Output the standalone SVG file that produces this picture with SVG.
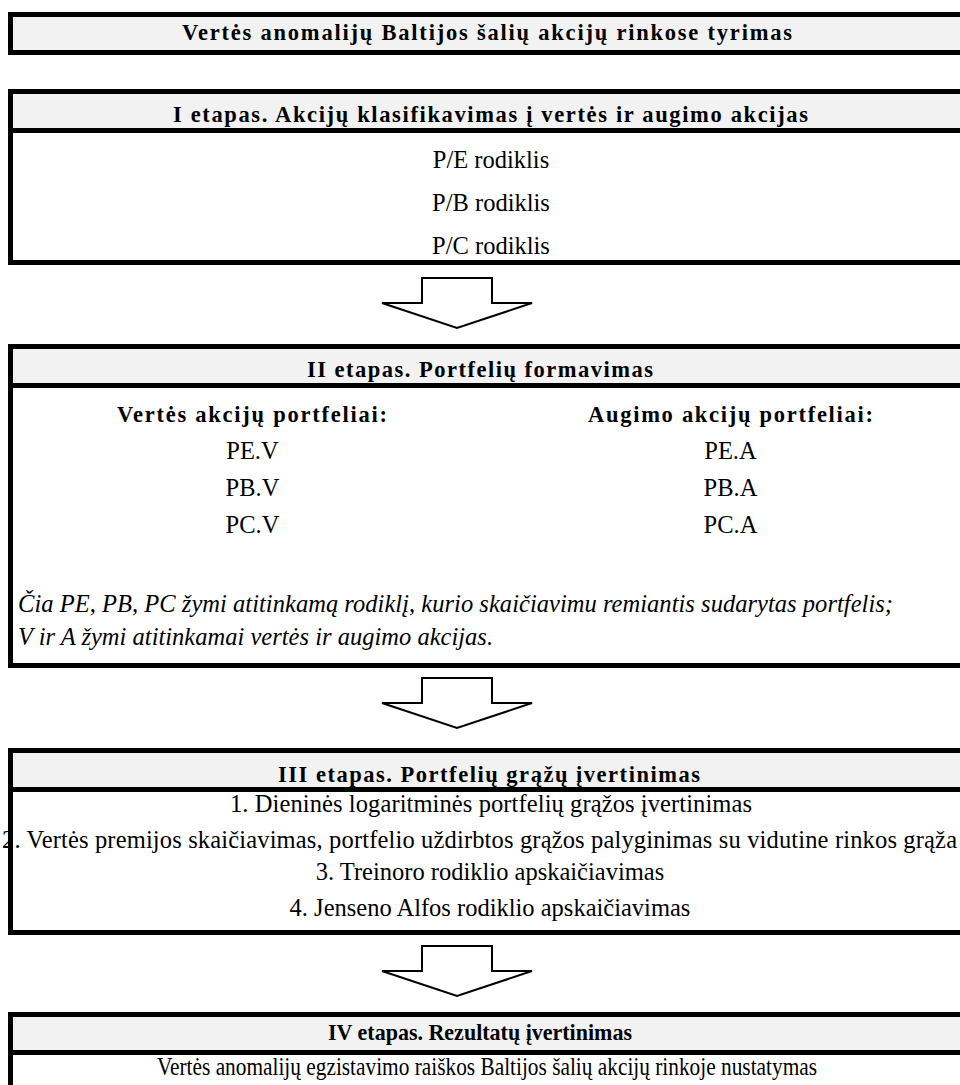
<svg xmlns="http://www.w3.org/2000/svg" width="960" height="1085" viewBox="0 0 960 1085">
<style>
.frame{fill:#fff;stroke:#000;stroke-width:5}
.head{fill:#f2f2f2;stroke:none}
.sep{stroke:#000;stroke-width:5}
.arrow{fill:#fff;stroke:#000;stroke-width:2;stroke-linejoin:miter}
text{font-family:"Liberation Serif","Times New Roman",serif;fill:#000}
.b{font-weight:bold;font-size:22.5px}
.r{font-size:24.5px}
.i{font-size:24.5px;font-style:italic}
.c{text-anchor:middle}
</style>
<rect width="960" height="1085" fill="#fff"/>

<g id="title">
<rect class="frame" x="10.5" y="14.5" width="967" height="38" style="fill:#f2f2f2"/>
<text class="b" x="182" y="40" textLength="610" lengthAdjust="spacing">Vertės anomalijų Baltijos šalių akcijų rinkose tyrimas</text>
</g>

<g id="stage1">
<rect class="frame" x="10.5" y="91.5" width="967" height="171"/>
<rect class="head" x="13" y="94" width="962" height="34"/>
<line class="sep" x1="8" y1="130.5" x2="980" y2="130.5"/>
<text class="b" x="173" y="122" textLength="635" lengthAdjust="spacing">I etapas. Akcijų klasifikavimas į vertės ir augimo akcijas</text>
<text class="r c" x="491" y="168">P/E rodiklis</text>
<text class="r c" x="491" y="211">P/B rodiklis</text>
<text class="r c" x="491" y="254">P/C rodiklis</text>
</g>

<g id="stage2">
<rect class="frame" x="10.5" y="346.5" width="967" height="319"/>
<rect class="head" x="13" y="349" width="962" height="34"/>
<line class="sep" x1="8" y1="385.5" x2="980" y2="385.5"/>
<text class="b" x="307" y="377" textLength="346" lengthAdjust="spacing">II etapas. Portfelių formavimas</text>
<text class="b" x="117" y="422" textLength="270" lengthAdjust="spacing">Vertės akcijų portfeliai:</text>
<text class="b" x="588" y="422" textLength="285" lengthAdjust="spacing">Augimo akcijų portfeliai:</text>
<text class="r c" x="252.5" y="459">PE.V</text>
<text class="r c" x="252.5" y="496">PB.V</text>
<text class="r c" x="252.5" y="533">PC.V</text>
<text class="r c" x="730.5" y="459">PE.A</text>
<text class="r c" x="730.5" y="496">PB.A</text>
<text class="r c" x="730.5" y="533">PC.A</text>
<text class="i" x="18" y="612" textLength="875" lengthAdjust="spacing">Čia PE, PB, PC žymi atitinkamą rodiklį, kurio skaičiavimu remiantis sudarytas portfelis;</text>
<text class="i" x="18" y="645" textLength="475" lengthAdjust="spacing">V ir A žymi atitinkamai vertės ir augimo akcijas.</text>
</g>

<g id="stage3">
<rect class="frame" x="10.5" y="750.5" width="967" height="182"/>
<rect class="head" x="13" y="753" width="962" height="34"/>
<line class="sep" x1="8" y1="789.5" x2="980" y2="789.5"/>
<text class="b" x="278" y="782" textLength="422" lengthAdjust="spacing">III etapas. Portfelių grąžų įvertinimas</text>
<text class="r" x="230" y="812" textLength="522" lengthAdjust="spacing">1. Dieninės logaritminės portfelių grąžos įvertinimas</text>
<text class="r" x="2" y="848" textLength="955" lengthAdjust="spacing">2. Vertės premijos skaičiavimas, portfelio uždirbtos grąžos palyginimas su vidutine rinkos grąža</text>
<text class="r c" x="490" y="880">3. Treinoro rodiklio apskaičiavimas</text>
<text class="r c" x="490" y="916">4. Jenseno Alfos rodiklio apskaičiavimas</text>
</g>

<g id="stage4">
<rect class="frame" x="10.5" y="1014.5" width="967" height="100"/>
<rect class="head" x="13" y="1017" width="962" height="33"/>
<line class="sep" x1="8" y1="1052.5" x2="980" y2="1052.5"/>
<text class="b" x="328" y="1040" textLength="304" lengthAdjust="spacingAndGlyphs">IV etapas. Rezultatų įvertinimas</text>
<text class="r" x="157" y="1075" textLength="660" lengthAdjust="spacingAndGlyphs">Vertės anomalijų egzistavimo raiškos Baltijos šalių akcijų rinkoje nustatymas</text>
</g>

<g id="connectors">
<polygon class="arrow" points="422,278 492,278 492,303 532,303 457,328 382,303 422,303"/>
<polygon class="arrow" points="422,678 492,678 492,703 532,703 457,728 382,703 422,703"/>
<polygon class="arrow" points="422,946 492,946 492,971 532,971 457,996 382,971 422,971"/>
</g>
</svg>
